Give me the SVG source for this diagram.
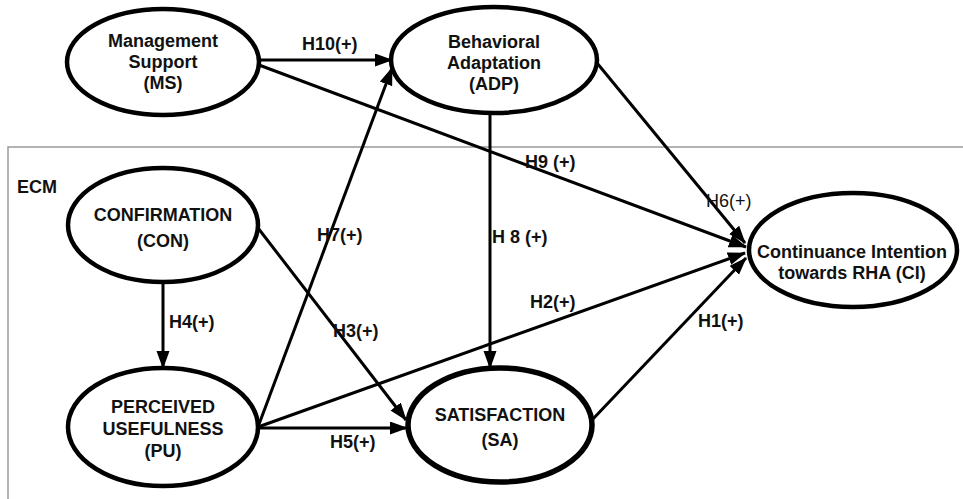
<svg xmlns="http://www.w3.org/2000/svg" width="963" height="499" viewBox="0 0 963 499">
<style>
.node ellipse{fill:#fff;stroke:#000;stroke-width:4.5}
.t{font-family:"Liberation Sans",Arial,sans-serif;font-weight:bold;font-size:18px;fill:#111;text-anchor:middle}
.lbl{font-family:"Liberation Sans",Arial,sans-serif;font-weight:bold;font-size:18px;fill:#111}
.lbln{font-family:"Liberation Sans",Arial,sans-serif;font-size:18px;fill:#111}
.conn line{stroke:#000;stroke-width:3;marker-end:url(#ah)}
</style>
<defs>
<marker id="ah" markerUnits="userSpaceOnUse" markerWidth="20" markerHeight="14" refX="17" refY="6.5" orient="auto">
<path d="M0,0 L18,6.5 L0,13 z" fill="#000"/>
</marker>
</defs>
<rect width="963" height="499" fill="#fff"/>
<rect id="ecm" x="8" y="147" width="970" height="370" fill="none" stroke="#999" stroke-width="1.5"/>
<text class="lbl" x="17" y="193">ECM</text>
<g class="conn">
<line x1="259" y1="60" x2="392" y2="60"/>
<line x1="259" y1="65" x2="746" y2="247"/>
<line x1="597" y1="63" x2="745" y2="243"/>
<line x1="490" y1="113" x2="490" y2="368"/>
<line x1="258" y1="427" x2="392" y2="68"/>
<line x1="258" y1="228" x2="406" y2="420"/>
<line x1="163" y1="283" x2="163" y2="368"/>
<line x1="258" y1="428" x2="407" y2="428"/>
<line x1="258" y1="427" x2="745" y2="253"/>
<line x1="592" y1="420" x2="746" y2="258"/>
</g>
<g id="labels">
<text class="lbl" x="302" y="50">H10(+)</text>
<text class="lbl" x="525" y="168">H9 (+)</text>
<text class="lbln" x="706" y="207">H6(+)</text>
<text class="lbl" x="492" y="243">H 8 (+)</text>
<text class="lbl" x="317" y="241">H7(+)</text>
<text class="lbl" x="333" y="337">H3(+)</text>
<text class="lbl" x="169" y="328">H4(+)</text>
<text class="lbl" x="330" y="448">H5(+)</text>
<text class="lbl" x="530" y="308">H2(+)</text>
<text class="lbl" x="698" y="327">H1(+)</text>
</g>
<g id="MS" class="node">
<ellipse cx="163" cy="62" rx="96" ry="53"/>
<text class="t" x="163" y="47">Management</text>
<text class="t" x="163" y="68">Support</text>
<text class="t" x="163" y="89">(MS)</text>
</g>
<g id="ADP" class="node">
<ellipse cx="494" cy="60" rx="103" ry="53"/>
<text class="t" x="494" y="48">Behavioral</text>
<text class="t" x="494" y="69">Adaptation</text>
<text class="t" x="494" y="90">(ADP)</text>
</g>
<g id="CON" class="node">
<ellipse cx="163" cy="225" rx="95" ry="57"/>
<text class="t" x="163" y="221">CONFIRMATION</text>
<text class="t" x="163" y="247">(CON)</text>
</g>
<g id="PU" class="node">
<ellipse cx="163" cy="427" rx="95" ry="59"/>
<text class="t" x="163" y="413">PERCEIVED</text>
<text class="t" x="163" y="435">USEFULNESS</text>
<text class="t" x="163" y="457">(PU)</text>
</g>
<g id="SA" class="node">
<ellipse cx="500" cy="425" rx="92" ry="57" style="stroke-width:5.5"/>
<text class="t" x="500" y="421">SATISFACTION</text>
<text class="t" x="500" y="446">(SA)</text>
</g>
<g id="CI" class="node">
<ellipse cx="853" cy="250" rx="104" ry="57"/>
<text class="t" x="852" y="258">Continuance Intention</text>
<text class="t" x="852" y="279">towards RHA (CI)</text>
</g>
</svg>
